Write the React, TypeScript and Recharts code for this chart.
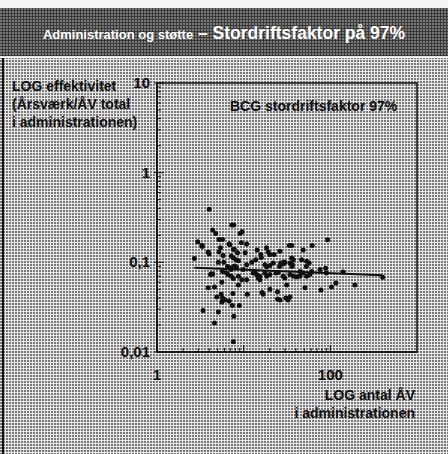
import { ScatterChart, Scatter, XAxis, YAxis, ReferenceArea } from 'recharts';

// LOG antal ÅV i administrationen (x) and LOG effektivitet (y)
const antalAV = [
  4.0, 2.95, 3.33, 2.7, 3.9, 4.4, 4.75, 5.2, 5.7, 7.3, 7.7, 9.1, 9.6, 6.8, 9.4, 10.8, 5.4, 5.2, 7.8, 8.5,
  10.4, 7.2, 7.6, 8.2, 8.7, 5.1, 5.9, 6.5, 6.95, 7.2, 7.7, 8.3, 4.2, 4.4, 5.7, 6.35, 7.2, 7.6, 8.7, 10.8,
  3.9, 4.6, 5.6, 4.9, 5.5, 5.7, 6.1, 6.8, 7.4, 8.9, 7.5, 3.4, 5.1, 7.7, 4.6, 11, 14.3, 13.8, 15.8, 16,
  18.4, 19.2, 22.4, 26.2, 33.6, 35.8, 48.6, 61.8, 93, 17.6, 18.5, 20.1, 22, 26.7, 28.6, 29.9, 35.8, 37.4, 34.2, 36.6,
  46.6, 53.3, 57, 12.9, 14.1, 14.7, 15.4, 17.6, 18.5, 20.1, 23.6, 25, 28.6, 29.9, 34.2, 37.4, 40.9, 44.6, 48.6, 53.3,
  58, 88.3, 140, 116, 103, 78, 51, 192, 402, 16.3, 16.8, 20.1, 24.6, 31.3, 24.6, 30.6, 32.6, 34.2, 26.2, 7.6,
  5.6, 3.3, 4.0, 4.15, 5.8, 6.95, 7.6, 7.9, 6.6, 8.7, 9.9, 10.8, 12.4, 9.5, 13.5, 15.4, 26, 29, 36, 45,
  53, 61, 76, 90, 20,
];
const effektivitet = [
  0.39, 0.17, 0.15, 0.11, 0.13, 0.23, 0.21, 0.18, 0.18, 0.26, 0.26, 0.21, 0.22, 0.16, 0.165, 0.16, 0.145, 0.13, 0.14, 0.128,
  0.128, 0.118, 0.112, 0.107, 0.104, 0.1, 0.1, 0.09, 0.087, 0.083, 0.089, 0.087, 0.074, 0.074, 0.079, 0.076, 0.07, 0.066, 0.056, 0.064,
  0.052, 0.053, 0.06, 0.041, 0.044, 0.04, 0.038, 0.037, 0.033, 0.033, 0.045, 0.029, 0.028, 0.025, 0.021, 0.044, 0.137, 0.107, 0.122, 0.113,
  0.145, 0.13, 0.122, 0.133, 0.154, 0.154, 0.137, 0.154, 0.179, 0.094, 0.089, 0.092, 0.098, 0.098, 0.096, 0.1, 0.112, 0.107, 0.098, 0.094,
  0.107, 0.103, 0.098, 0.076, 0.073, 0.067, 0.07, 0.076, 0.07, 0.073, 0.076, 0.077, 0.07, 0.067, 0.073, 0.07, 0.069, 0.07, 0.076, 0.07,
  0.073, 0.086, 0.078, 0.059, 0.053, 0.049, 0.052, 0.056, 0.068, 0.046, 0.044, 0.05, 0.047, 0.056, 0.039, 0.04, 0.038, 0.041, 0.038, 0.013,
  0.036, 0.155, 0.124, 0.073, 0.119, 0.157, 0.139, 0.091, 0.073, 0.07, 0.083, 0.094, 0.1, 0.064, 0.079, 0.064, 0.09, 0.1, 0.09, 0.079,
  0.09, 0.079, 0.083, 0.076, 0.122,
];

// BCG trend line (97%)
const trendX = [2.7, 400];
const trendY = [0.087, 0.072];

const xTicks = [1, 2, 3, 4, 5, 6, 7, 8, 9, 10, 20, 30, 40, 50, 60, 70, 80, 90, 100];
const yTicks = [
  0.01, 0.02, 0.03, 0.04, 0.05, 0.06, 0.07, 0.08, 0.09,
  0.1, 0.2, 0.3, 0.4, 0.5, 0.6, 0.7, 0.8, 0.9,
  1, 2, 3, 4, 5, 6, 7, 8, 9, 10,
];
const xLabels: Record<string, string> = { '1': '1', '100': '100' };
const yLabels: Record<string, string> = { '0.01': '0,01', '0.1': '0,1', '1': '1', '10': '10' };
const majors = ['0.01', '0.1', '1', '10', '100'];

const points = antalAV.map((x, i) => ({ x, y: effektivitet[i] }));
const trend = trendX.map((x, i) => ({ x, y: trendY[i] }));

const FONT = '"Liberation Sans", Arial, sans-serif';
const INK = '#111';

const XTick = ({ x, y, payload }: any) => {
  const key = String(payload.value);
  const len = majors.includes(key) ? 7 : 4;
  return (
    <g>
      <line x1={x} x2={x} y1={y} y2={y - len} stroke={INK} strokeWidth={1} />
      {xLabels[key] && (
        <text x={x} y={y + 28} textAnchor="middle" fontFamily={FONT} fontWeight="bold" fontSize={15} fill={INK}>
          {xLabels[key]}
        </text>
      )}
    </g>
  );
};

const YTick = ({ x, y, payload }: any) => {
  const key = String(payload.value);
  const major = majors.includes(key);
  return (
    <g>
      <line x1={x - (major ? 3 : 0)} x2={x + (major ? 7 : 4)} y1={y} y2={y} stroke={INK} strokeWidth={1} />
      {yLabels[key] && (
        <text x={x - 7} y={y + 5} textAnchor="end" fontFamily={FONT} fontWeight="bold" fontSize={15} fill={INK}>
          {yLabels[key]}
        </text>
      )}
    </g>
  );
};

const Dot = ({ cx, cy }: any) => <circle cx={cx} cy={cy} r={2.5} fill={INK} />;

const txt = (extra: any) => ({
  position: 'absolute' as const,
  fontFamily: FONT,
  fontWeight: 'bold' as const,
  color: INK,
  fontSize: 14,
  lineHeight: '18px',
  whiteSpace: 'nowrap' as const,
  ...extra,
});

export default function App() {
  return (
    <div
      style={{
        position: 'absolute',
        left: 0,
        top: 0,
        width: 448,
        height: 454,
        overflow: 'hidden',
        backgroundColor: '#e6e6e6',
        backgroundImage: 'radial-gradient(circle at 1px 1px, #7a7a7a 0.8px, transparent 1px)',
        backgroundSize: '3px 3px',
      }}
    >
      <div style={{ position: 'absolute', left: 0, top: 0, width: 448, height: 8, background: '#f4f4f4' }} />
      <div
        style={{
          position: 'absolute',
          left: 0,
          top: 8,
          width: 448,
          height: 48,
          backgroundColor: '#3a3a3a',
          backgroundImage: 'radial-gradient(circle at 1px 1px, #7a7a7a 0.7px, transparent 1px)',
          backgroundSize: '3px 3px',
          color: '#fff',
          fontFamily: FONT,
          fontWeight: 'bold',
          textAlign: 'center',
          lineHeight: '50px',
          whiteSpace: 'nowrap',
        }}
      >
        <span style={{ fontSize: 13 }}>Administration og støtte</span>
        <span style={{ fontSize: 17.5 }}> – Stordriftsfaktor på 97%</span>
      </div>
      <div style={{ position: 'absolute', left: 0, top: 57, width: 448, height: 1, background: '#fafafa' }} />
      <div style={{ position: 'absolute', left: 2, top: 58, width: 2, height: 396, background: INK }} />

      <div style={{ position: 'absolute', left: 0, top: 0 }}>
        <ScatterChart width={448} height={454} margin={{ top: 83, right: 31, left: 0, bottom: 72 }}>
          <XAxis
            dataKey="x"
            type="number"
            scale="log"
            domain={[1, 1000]}
            ticks={xTicks}
            interval={0}
            allowDataOverflow
            tickSize={0}
            tickMargin={0}
            tickLine={false}
            tick={<XTick />}
            height={30}
            axisLine={{ stroke: INK, strokeWidth: 1.5 }}
          />
          <YAxis
            dataKey="y"
            type="number"
            scale="log"
            domain={[0.01, 10]}
            ticks={yTicks}
            interval={0}
            allowDataOverflow
            tickSize={0}
            tickMargin={0}
            tickLine={false}
            tick={<YTick />}
            width={157}
            axisLine={{ stroke: INK, strokeWidth: 1.5 }}
          />
          <ReferenceArea x1={1} x2={1000} y1={0.01} y2={10} fill="none" stroke={INK} strokeWidth={1.5} ifOverflow="visible" />
          <Scatter data={points} shape={<Dot />} isAnimationActive={false} />
          <Scatter
            data={trend}
            line={{ stroke: INK, strokeWidth: 2 }}
            shape={() => <g />}
            isAnimationActive={false}
          />
        </ScatterChart>
      </div>

      <div style={txt({ left: 12, top: 77 })}>
        LOG effektivitet
        <br />
        (Årsværk/ÅV total
        <br />
        i administrationen)
      </div>
      <div style={txt({ left: 230, top: 97 })}>BCG stordriftsfaktor 97%</div>
      <div style={txt({ right: 33, top: 386, textAlign: 'right' })}>
        LOG antal ÅV
        <br />
        i administrationen
      </div>
    </div>
  );
}
